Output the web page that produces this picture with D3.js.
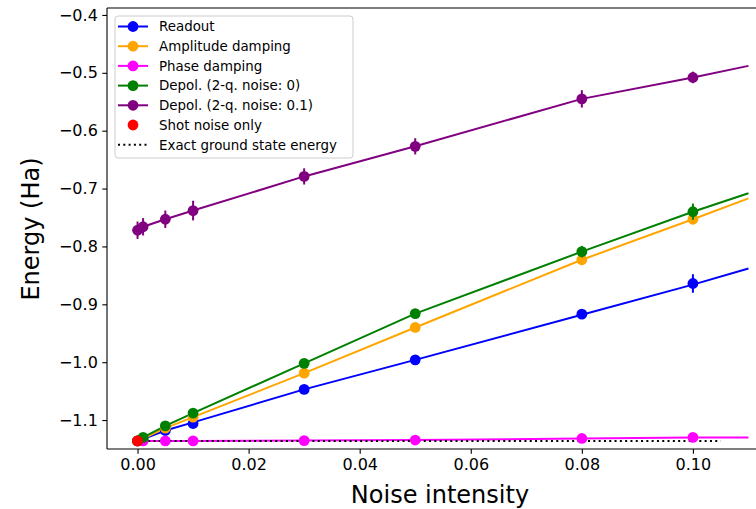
<!DOCTYPE html>
<html>
<head>
<meta charset="utf-8">
<script src="https://cdn.jsdelivr.net/npm/d3@7"></script>
<style>
  body { margin: 0; background: #fff; }
  svg { display: block; font-family: "DejaVu Sans", sans-serif; }
</style>
</head>
<body>
<script>
// noise levels where points were measured, and where the fitted curves are drawn
var noiseLevels = [0, 0.001, 0.005, 0.01, 0.03, 0.05, 0.08, 0.1];
var fitLevels = [0, 0.001, 0.005, 0.01, 0.03, 0.05, 0.08, 0.1, 0.11];

// measured energies (Ha) and their error bars
var readoutVals = [-1.136, -1.133, -1.118, -1.106, -1.047, -0.996, -0.917, -0.864];
var readoutErr  = [0.003, 0.003, 0.003, 0.004, 0.004, 0.005, 0.006, 0.016];
var ampVals     = [-1.136, -1.132, -1.114, -1.095, -1.019, -0.940, -0.823, -0.753];
var ampErr      = [0.003, 0.003, 0.003, 0.004, 0.004, 0.005, 0.006, 0.007];
var phaseVals   = [-1.136, -1.136, -1.136, -1.136, -1.1355, -1.1345, -1.1318, -1.130];
var phaseErr    = [0.002, 0.002, 0.002, 0.002, 0.002, 0.002, 0.002, 0.002];
var depol0Vals  = [-1.136, -1.130, -1.110, -1.088, -1.002, -0.916, -0.809, -0.740];
var depol0Err   = [0.003, 0.003, 0.004, 0.005, 0.006, 0.008, 0.010, 0.014];
var depol1Vals  = [-0.772, -0.766, -0.753, -0.738, -0.679, -0.627, -0.545, -0.508];
var depol1Err   = [0.015, 0.015, 0.015, 0.017, 0.014, 0.014, 0.015, 0.010];

// fitted curves, read at fitLevels
var readoutFit = [-1.136, -1.133, -1.118, -1.104, -1.047, -0.996, -0.918, -0.866, -0.838];
var ampFit     = [-1.136, -1.132, -1.114, -1.095, -1.019, -0.940, -0.823, -0.753, -0.717];
var phaseFit   = [-1.136, -1.136, -1.136, -1.136, -1.1355, -1.1345, -1.1318, -1.130, -1.130];
var depol0Fit  = [-1.136, -1.130, -1.110, -1.088, -1.002, -0.916, -0.809, -0.740, -0.708];
var depol1Fit  = [-0.772, -0.766, -0.753, -0.738, -0.679, -0.627, -0.545, -0.508, -0.488];

var shotNoiseX = [0];
var shotNoiseY = [-1.136];
var exactEnergy = -1.136;
var exactRange = [0, 0.105];

var xTicks = [0, 0.02, 0.04, 0.06, 0.08, 0.10];
var yTicks = [-1.1, -1.0, -0.9, -0.8, -0.7, -0.6, -0.5, -0.4];

var seriesNames = ["Readout", "Amplitude damping", "Phase damping",
  "Depol. (2-q. noise: 0)", "Depol. (2-q. noise: 0.1)"];
var seriesColors = ["#0000ff", "#ffa500", "#ff00ff", "#008000", "#800080"];
var seriesVals = [readoutVals, ampVals, phaseVals, depol0Vals, depol1Vals];
var seriesErr = [readoutErr, ampErr, phaseErr, depol0Err, depol1Err];
var seriesFit = [readoutFit, ampFit, phaseFit, depol0Fit, depol1Fit];

// plot box (the right edge runs past the window, as in the original)
var margin = {top: 8, left: 107},
  width = 672,
  height = 441;

var x = d3.scaleLinear().domain([-0.0055, 0.1155]).range([0, width]);
var y = d3.scaleLinear().domain([-1.150, -0.388]).range([height, 0]);

var svg = d3.select("body").append("svg")
  .attr("width", 756)
  .attr("height", 509);

var g = svg.append("g")
  .attr("transform", "translate(" + margin.left + "," + margin.top + ")");

var line = d3.line()
  .x(function(d) { return x(d[0]); })
  .y(function(d) { return y(d[1]); });

// fitted lines
seriesFit.forEach(function(fit, i) {
  g.append("path")
    .datum(fitLevels.map(function(v, j) { return [v, fit[j]]; }))
    .attr("d", line)
    .attr("fill", "none")
    .attr("stroke", seriesColors[i])
    .attr("stroke-width", 2);
});

// exact ground state energy
g.append("line")
  .attr("x1", x(exactRange[0]))
  .attr("x2", x(exactRange[1]))
  .attr("y1", y(exactEnergy))
  .attr("y2", y(exactEnergy))
  .attr("stroke", "#000")
  .attr("stroke-width", 2)
  .attr("stroke-dasharray", "2,3.3");

// markers with error bars
seriesVals.forEach(function(vals, i) {
  var pts = noiseLevels.map(function(v, j) { return {x: v, y: vals[j], e: seriesErr[i][j]}; });
  var grp = g.append("g");
  grp.selectAll("line.err")
    .data(pts)
    .enter().append("line")
    .attr("class", "err")
    .attr("x1", function(d) { return x(d.x); })
    .attr("x2", function(d) { return x(d.x); })
    .attr("y1", function(d) { return y(d.y - d.e); })
    .attr("y2", function(d) { return y(d.y + d.e); })
    .attr("stroke", seriesColors[i])
    .attr("stroke-width", 2);
  grp.selectAll("circle")
    .data(pts)
    .enter().append("circle")
    .attr("cx", function(d) { return x(d.x); })
    .attr("cy", function(d) { return y(d.y); })
    .attr("r", 5.4)
    .attr("fill", seriesColors[i]);
});

// shot noise only
g.selectAll("circle.shot")
  .data(shotNoiseX)
  .enter().append("circle")
  .attr("class", "shot")
  .attr("cx", function(d) { return x(d); })
  .attr("cy", function(d, i) { return y(shotNoiseY[i]); })
  .attr("r", 5.4)
  .attr("fill", "#ff0000");

// axes
var xAxis = g.append("g")
  .attr("transform", "translate(0," + height + ")")
  .call(d3.axisBottom(x).tickValues(xTicks).tickFormat(d3.format(".2f"))
    .tickSize(4.7).tickPadding(4.5).tickSizeOuter(0));
var yAxis = g.append("g")
  .call(d3.axisLeft(y).tickValues(yTicks).tickFormat(d3.format(".1f"))
    .tickSize(4.7).tickPadding(4.5).tickSizeOuter(0));

[xAxis, yAxis].forEach(function(a) {
  a.select(".domain").remove();
  a.selectAll("line").attr("stroke", "#000").attr("stroke-width", 1.1);
  a.selectAll("text").attr("font-size", "16px").attr("fill", "#000")
    .attr("font-family", "DejaVu Sans");
});

// spines (left, top, bottom)
g.append("line").attr("x1", 0).attr("x2", 0).attr("y1", 0).attr("y2", height)
  .attr("stroke", "#000").attr("stroke-width", 1.1);
g.append("line").attr("x1", 0).attr("x2", width).attr("y1", 0).attr("y2", 0)
  .attr("stroke", "#000").attr("stroke-width", 1.1);
g.append("line").attr("x1", 0).attr("x2", width).attr("y1", height).attr("y2", height)
  .attr("stroke", "#000").attr("stroke-width", 1.1);

// axis labels
svg.append("text")
  .attr("x", 440)
  .attr("y", 503)
  .attr("text-anchor", "middle")
  .attr("font-size", "24px")
  .attr("fill", "#000")
  .text("Noise intensity");

svg.append("text")
  .attr("transform", "translate(39,229) rotate(-90)")
  .attr("text-anchor", "middle")
  .attr("font-size", "24px")
  .attr("fill", "#000")
  .text("Energy (Ha)");

// legend
var legend = svg.append("g").attr("transform", "translate(115,16)");
legend.append("rect")
  .attr("width", 238)
  .attr("height", 142)
  .attr("rx", 3)
  .attr("fill", "#fff")
  .attr("fill-opacity", 0.8)
  .attr("stroke", "#cccccc")
  .attr("stroke-width", 1);

var legendNames = seriesNames.concat(["Shot noise only", "Exact ground state energy"]);
var rowH = 19.7;
legendNames.forEach(function(name, i) {
  var cy = 10.5 + i * rowH;
  var row = legend.append("g");
  if (i < seriesNames.length) {
    row.append("line").attr("x1", 3).attr("x2", 33).attr("y1", cy).attr("y2", cy)
      .attr("stroke", seriesColors[i]).attr("stroke-width", 2);
    row.append("circle").attr("cx", 18).attr("cy", cy).attr("r", 5.4)
      .attr("fill", seriesColors[i]);
  } else if (name == "Shot noise only") {
    row.append("circle").attr("cx", 18).attr("cy", cy).attr("r", 5.4)
      .attr("fill", "#ff0000");
  } else {
    row.append("line").attr("x1", 3).attr("x2", 33).attr("y1", cy).attr("y2", cy)
      .attr("stroke", "#000").attr("stroke-width", 2)
      .attr("stroke-dasharray", "2,3.3");
  }
  row.append("text")
    .attr("x", 44)
    .attr("y", cy)
    .attr("dy", "0.36em")
    .attr("font-size", "13.4px")
    .attr("fill", "#000")
    .text(name);
});
</script>
</body>
</html>
